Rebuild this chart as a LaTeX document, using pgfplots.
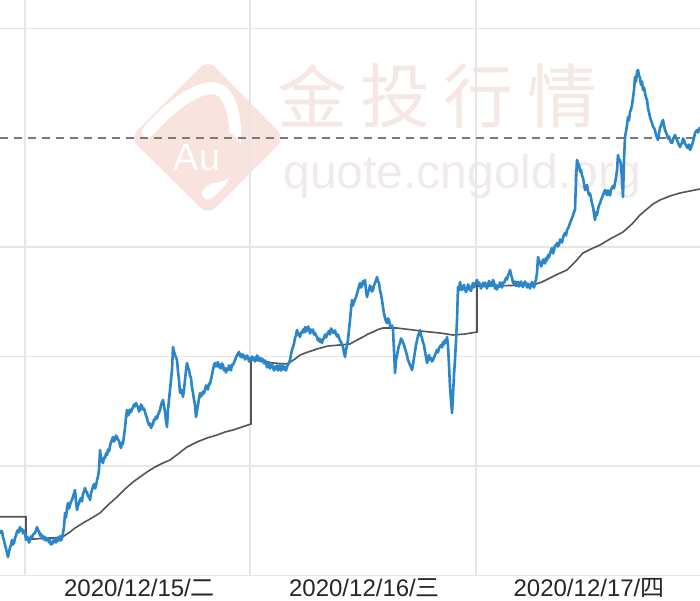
\documentclass[border=0pt]{standalone}
\usepackage{fontspec}
\setmainfont{Liberation Sans}
\newfontfamily\cjk{Noto Sans CJK SC}
\usepackage{pgfplots}
\pgfplotsset{compat=1.18}
\definecolor{blueline}{HTML}{2A86C8}
\definecolor{grayline}{HTML}{555555}
\definecolor{gridc}{HTML}{E6E6E6}
\definecolor{dashc}{HTML}{7A7A7A}
\definecolor{wmpink}{HTML}{F8E3DE}
\definecolor{wmtext}{HTML}{F5E7E4}
\definecolor{wmgray}{HTML}{F0EAEA}
\begin{document}
\begin{tikzpicture}
\path[use as bounding box] (0,-12.25pt) rectangle (350pt,287.75pt);
% watermark (decoration)
\fill[wmpink,rounded corners=5pt] (65pt,218.75pt) -- (104pt,257.75pt) -- (142.5pt,218.75pt) -- (104pt,180.25pt) -- cycle;
\draw[white,line width=6pt,line cap=round] (74pt,222pt) .. controls (88pt,238pt) and (106pt,250pt) .. (113pt,240pt) .. controls (121pt,226pt) and (119pt,202pt) .. (104pt,191pt);
\fill[wmpink] (105pt,210.25pt) ellipse [x radius=16.5pt, y radius=14pt];
\node[text=white,font=\fontsize{19}{19}\selectfont] at (98.5pt,209pt) {Au};
\node[text=wmtext,font=\cjk\fontsize{35}{35}\selectfont] at (156pt,240pt) {金};
\node[text=wmtext,font=\cjk\fontsize{35}{35}\selectfont] at (197.5pt,240pt) {投};
\node[text=wmtext,font=\cjk\fontsize{35}{35}\selectfont] at (239pt,240pt) {行};
\node[text=wmtext,font=\cjk\fontsize{35}{35}\selectfont] at (281pt,240pt) {情};
\node[text=wmgray,font=\fontsize{24}{24}\selectfont,anchor=base west,inner sep=0pt] at (141.5pt,193.25pt) {quote.cngold.org};
\begin{axis}[
  scale only axis, width=350pt, height=287.75pt,
  at={(0,0)}, anchor=south west,
  xmin=0, xmax=700, ymin=0, ymax=575.5,
  axis x line*=bottom, axis y line*=left,
  x axis line style={gridc, line width=0.6pt, -},
  y axis line style={draw=none},
  major tick length=0,
  xtick={139.5,364.5,589},
  xticklabels={{2020/12/15/{\cjk 二}},{2020/12/16/{\cjk 三}},{2020/12/17/{\cjk 四}}},
  xticklabel style={anchor=base, yshift=-10.5pt, font=\fontsize{12}{14}\selectfont, text=black!85},
  extra x ticks={25,250,476}, extra x tick labels={},
  extra x tick style={grid=major},
  ytick={109.5,219,328.5,547}, yticklabels={},
  ymajorgrids,
  grid style={gridc, line width=0.6pt},
  clip=true,
]
\addplot[dashc, dashed, dash pattern=on 4pt off 3pt, line width=0.6pt] coordinates {(0,437.5) (700,437.5)};
\addplot[grayline, line width=0.8pt] coordinates {
(0,58.8) (26,58.8) (26,36.5) (35,36.5) (45,37.5) (55,37.5) (63,38.8) (70,43.5) (75,47.5) (83,52.5)
(90,56.5) (100,62.5) (108,70.5) (117,78.5) (125,86.5) (133,93.5) (140,98.5) (147,103.5) (155,108.5)
(163,112.5) (170,115.5) (178,121.5) (187,128.5) (197,133.5) (207,137.5) (217,140.5) (225,143.5)
(233,145.5) (242,148.5) (251,151.5) (251,215.5) (262,214.5) (273,212.5) (287,211.5) (295,216.5)
(300,220.5) (308,223.5) (317,226.5) (328,229.5) (340,230.5) (350,231.5) (357,235.5) (363,238.5)
(368,241.5) (373,243.5) (378,246) (383,247.5) (390,247.5) (397,247.5) (405,246.5) (413,245.5)
(425,244) (440,242.5) (453,240.5) (465,241.5) (477,243.5) (477,289.5) (490,289.5) (510,290)
(533,290.5) (542,293.5) (550,297.5) (558,301.5) (567,305.5) (575,313.5) (583,322.5) (591,326.5)
(600,330.5) (610,336.5) (623,343.5) (632,351.5) (640,360.5) (647,366.5) (653,371.5) (660,375.5)
(670,379.5) (680,382.5) (690,384.5) (700,386.5)
};
\addplot[blueline, line width=1.3pt, line join=round] coordinates {
(0,45.5) (1,42.5) (2,44.5) (3,38.5) (4,35) (5,30.5) (6,27) (7,22.5) (8,18.5) (9,24) (10,27.5) (11,31) (12,35.5) (13,31) (14,32.5) (15,37.5)
(16,40) (17,44) (18,45.5) (19,43) (20,48.5) (21,45) (22,46.5) (23,42) (24,45) (25,42.5) (26,35.5) (27,39) (28,37.5) (29,33) (30,35.5) (31,39) (32,37.5) (33,41) (35,42.5) (36,45) (37,48.5)
(38,45) (39,44.5) (40,40) (41,41.5) (42,37) (43,39.5) (44,36) (45,38.5) (46,35) (48,37.5) (49,33) (50,35.5) (51,31) (53,32.5) (54,37) (55,36.5) (56,33) (57,34.5) (58,38) (59,35) (60,39.5)
(61,35) (62,37.5) (63,42.5) (64,48.5) (65,62.5) (66,58) (67,67.5) (68,72.5) (69,67) (70,70.5) (71,74) (72,75.5) (73,79) (74,82) (75,85.5) (76,73.5)
(77,65.5) (78,70) (79,72.5) (80,76) (81,77.5) (82,74) (83,81.5) (84,84) (85,87.5) (86,84) (87,83.5) (88,79) (89,79.5) (90,75.5) (91,82) (92,85.5) (93,89) (94,91.5)
(95,87) (96,89.5) (97,95.5) (98,99) (99,105.5) (100,125.5) (101,117.5) (102,114) (103,112.5) (104,118) (105,117.5) (106,122) (107,120.5) (108,126) (109,124) (110,129.5)
(111,133) (112,136) (113,138.5) (114,134) (115,135.5) (116,140) (117,138.5) (118,136) (119,134.5) (120,130) (121,127.5) (122,133) (123,131.5) (124,140) (125,147.5) (126,158) (127,165.5)
(128,160) (129,161.5) (130,166) (131,163.5) (132,166) (133,168.5) (134,171) (135,169) (136,172.5) (137,170) (138,168.5) (139,164) (140,165.5) (141,171) (142,169.5) (143,166) (144,167) (145,163.5)
(146,160) (147,157.5) (148,153) (149,150.5) (150,152) (151,147.5) (152,150) (153,151.5) (154,156) (155,155.5) (156,159) (157,157) (158,160.5) (159,163) (160,165.5) (161,170) (162,173.5)
(163,175.5) (164,170) (165,163.5) (166,155) (167,148.5) (168,165.5) (169,176) (170,185.5) (171,196) (172,205.5) (173,228.5) (174,224) (175,220.5)
(176,218) (177,215.5) (178,204) (179,195.5) (180,182.5) (181,186) (182,183.5) (183,178.5) (184,186) (185,195.5) (186,205) (187,212.5) (188,208) (189,205.5)
(190,200) (191,197.5) (192,188) (193,182.5) (194,176) (195,170.5) (196,158.5) (197,165) (198,170.5) (199,177) (200,182.5) (201,179) (202,180.5) (203,184) (204,182) (205,185.5)
(206,190) (207,188.5) (208,186) (209,192) (210,191.5) (211,196) (212,200.5) (213,206) (214,210.5) (215,212.5) (216,209) (217,211) (218,213.5) (219,208) (220,210.5) (221,207) (222,212) (223,210.5)
(224,205) (225,207.5) (226,203) (227,207) (228,205.5) (229,210) (230,208.5) (231,205) (232,211) (233,210.5) (234,213) (235,215.5) (236,218) (237,220.5) (238,222) (239,223.5) (240,219) (241,221.5)
(242,218) (243,221) (244,219.5) (245,216) (246,217.5) (247,220) (248,218.5) (249,214) (250,215.5) (252,219) (253,215.5) (254,218) (255,214) (256,216.5) (257,220) (258,218.5) (259,215) (260,217.5)
(261,214) (262,217) (263,215.5) (264,212) (265,215) (266,213.5) (267,208) (268,210.5) (269,213) (270,207) (271,208.5) (272,211) (273,208.5) (274,205) (275,209) (276,206.5) (277,210) (278,205) (279,207.5) (280,211) (281,205) (282,206.5)
(283,210) (284,206) (285,208.5) (286,205) (287,208.5) (288,211) (289,212.5) (290,215.5) (291,221) (292,225.5) (293,228.5) (294,232) (295,237.5) (296,240) (297,245.5)
(298,242) (299,240.5) (300,238.5) (301,243) (302,242.5) (303,246) (304,243) (305,248.5) (306,244) (307,245.5) (308,249) (309,246.5) (310,242) (311,246) (312,243.5) (313,246) (314,241) (315,242.5)
(316,240) (317,238.5) (318,235) (319,237) (320,233.5) (321,236) (322,232.5) (323,236) (324,237.5) (325,241) (326,238) (327,240.5) (328,243) (329,244.5) (330,241) (331,247) (332,245.5) (333,243) (334,242.5)
(335,245) (336,241.5) (337,239) (338,241) (339,237.5) (340,235) (341,233.5) (342,231) (343,228.5) (344,223) (345,218.5) (346,225.5) (347,230) (348,235.5) (349,246) (350,255.5)
(351,266) (352,275.5) (353,270) (354,273.5) (355,276) (356,278.5) (357,282) (358,285.5) (359,289) (360,292.5) (361,288) (362,289.5) (363,294.5) (364,292) (365,295.5)
(366,285) (367,278.5) (368,283) (369,285.5) (370,290) (371,288.5) (372,284) (373,285.5) (374,290) (375,292.5) (376,295) (377,298.5) (378,294) (379,292.5) (380,285.5)
(381,281) (382,275.5) (383,268.5) (384,262) (385,257.5) (386,254) (387,252.5) (388,257) (389,255.5) (390,250) (391,248.5) (392,250) (393,245.5) (394,225) (395,202.5)
(396,215.5) (397,220) (398,225.5) (399,230) (400,232.5) (401,237) (402,235.5) (403,233) (404,230.5) (405,227) (406,223.5) (407,220) (408,215.5) (409,213) (410,210.5)
(411,208) (412,205.5) (413,211) (414,217.5) (415,224) (416,230.5) (417,235) (418,239.5) (419,242) (420,245.5) (421,240) (422,237.5) (423,233) (424,230.5) (425,224) (426,218.5)
(427,212.5) (428,216) (429,220.5) (430,216) (431,217.5) (432,214) (433,215.5) (434,218) (435,220.5) (436,223) (437,225.5) (438,223) (439,227.5) (440,229) (441,230.5)
(442,228) (443,233.5) (444,231) (445,235.5) (446,233) (447,238.5) (448,230.5) (449,210) (450,188.5) (451,175.5) (452,162.5) (453,180.5)
(454,200.5) (455,215.5) (456,235) (457,255.5) (458,288.5) (459,285) (460,293.5) (461,288) (462,285.5) (463,289) (464,290.5) (465,286) (466,283.5)
(467,285.5) (468,291) (469,289.5) (470,286) (471,284.5) (472,289) (473,292.5) (474,288) (475,290.5) (476,293) (477,295.5) (478,291) (479,293) (480,290.5) (481,287) (482,290) (483,292.5)
(484,289) (485,293) (486,290.5) (487,287) (488,291) (489,294.5) (490,292) (491,289.5) (492,292) (493,295.5) (494,293) (495,287) (496,290.5) (497,286) (498,290) (499,288.5) (500,293) (501,291.5) (502,288) (503,293) (504,292.5)
(505,295) (506,297.5) (507,296) (508,300.5) (509,302) (510,305.5) (511,301) (512,297.5) (513,293) (514,291.5) (515,294) (516,289.5) (517,292) (518,293.5) (519,289) (520,291.5)
(521,294) (522,290) (523,288.5) (524,292) (525,294) (526,291.5) (527,288) (528,292) (529,290.5) (530,287) (531,291) (532,293.5) (533,290) (534,288) (535,292.5) (536,296) (537,302.5) (538,318.5) (539,315) (540,313.5)
(541,309) (542,311.5) (543,316) (544,315.5) (545,312) (546,317.5) (547,315) (548,320.5) (549,318) (550,322.5) (551,325) (552,327.5) (553,322) (554,325.5) (555,330) (556,329.5)
(557,332.5) (558,329) (559,330.5) (560,336) (561,335.5) (562,333) (563,337.5) (564,341) (565,342.5) (566,340) (567,345.5) (568,347) (569,349.5) (570,352.5)
(571,355) (572,357.5) (573,360) (574,363.5) (575,365.5) (576,395.5) (577,415.5) (578,412) (579,410.5) (580,404) (581,405.5) (582,400) (583,397.5)
(584,392) (585,385.5) (586,388) (587,390.5) (588,384) (589,380.5) (590,382) (591,377.5) (592,372) (593,368.5) (594,362) (595,355.5) (596,363) (597,360.5) (598,366) (599,370.5)
(600,372) (601,375.5) (602,378) (603,380.5) (604,383) (605,385.5) (606,382) (607,380.5) (608,385) (609,383.5) (610,380) (611,385.5) (612,388) (613,389.5) (614,387) (615,392.5)
(616,398) (617,405.5) (618,420.5) (619,414) (620,415.5) (621,410.5) (622,395.5) (623,378.5) (624,415.5) (625,438.5)
(626,444) (627,450.5) (628,458.5) (629,455) (630,463.5) (631,466) (632,470.5) (633,478) (634,485.5) (635,498.5) (636,494) (637,503.5) (638,505.5)
(639,500) (640,497.5) (641,490.5) (642,494) (643,485.5) (644,488) (645,482.5) (646,478) (647,475.5) (648,467.5) (649,463) (650,458.5) (651,455) (652,452.5)
(653,449) (654,447.5) (655,445.5) (656,440.5) (657,438) (658,435.5) (659,442) (660,447.5) (661,450) (662,453.5) (663,455.5) (664,450) (665,445.5)
(666,443) (667,440.5) (668,437) (669,439) (670,435.5) (671,433) (672,432.5) (673,436) (674,437.5) (675,440.5) (676,438) (677,435.5) (678,433) (679,430.5) (680,428.5)
(681,431) (682,432.5) (683,437) (684,435.5) (685,432) (686,430.5) (687,428) (688,427.5) (689,431) (690,425.5) (691,428) (692,430.5) (693,434) (694,437.5) (695,442.5)
(696,444) (697,445.5) (698,443) (700,448.5)
};
\end{axis}
\end{tikzpicture}
\end{document}
